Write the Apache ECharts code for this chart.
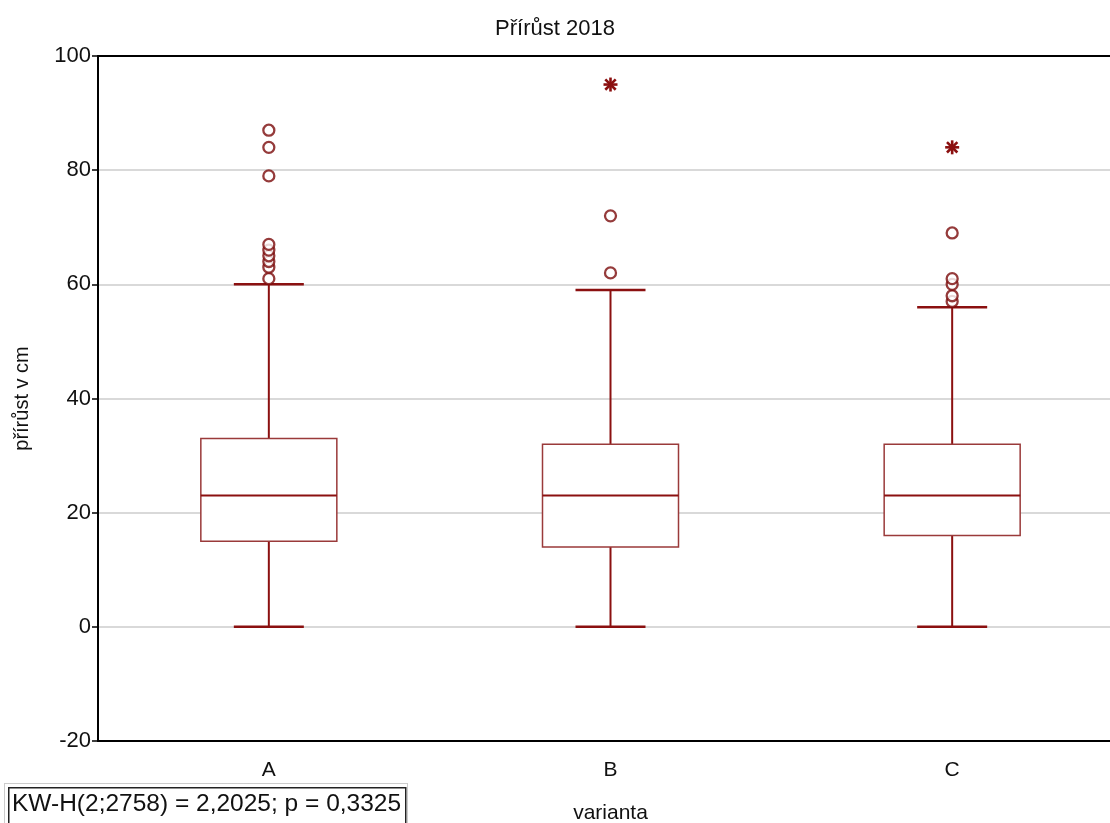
<!DOCTYPE html>
<html>
<head>
<meta charset="utf-8">
<script src="https://cdn.jsdelivr.net/npm/echarts@6/dist/echarts.min.js"></script>
<style>
  html, body { margin: 0; padding: 0; background: #fff; }
  #chart { width: 1110px; height: 823px; }
</style>
</head>
<body>
<div id="chart"></div>
<script>
// values
var categories = ['A', 'B', 'C'];
var whiskerLow = [0, 0, 0];
var q1 = [15, 14, 16];
var median = [23, 23, 23];
var q3 = [33, 32, 32];
var whiskerHigh = [60, 59, 56];
var outliersA = [61, 63, 64, 65, 66, 67, 79, 84, 87];
var outliersB = [62, 72];
var outliersC = [57, 58, 60, 61, 69];
var extremesB = [95];
var extremesC = [84];
var yTicks = [-20, 0, 20, 40, 60, 80, 100];

var red = '#8b1010';

var boxData = categories.map(function (c, i) {
  return [i, whiskerLow[i], q1[i], median[i], q3[i], whiskerHigh[i]];
});

var outlierData = [];
[outliersA, outliersB, outliersC].forEach(function (arr, i) {
  arr.forEach(function (v) { outlierData.push([i, v]); });
});
var extremeData = [];
extremesB.forEach(function (v) { extremeData.push([1, v]); });
extremesC.forEach(function (v) { extremeData.push([2, v]); });

function renderBox(params, api) {
  var idx = api.value(0);
  var lo = api.coord([idx, api.value(1)]);
  var b1 = api.coord([idx, api.value(2)]);
  var md = api.coord([idx, api.value(3)]);
  var b3 = api.coord([idx, api.value(4)]);
  var hi = api.coord([idx, api.value(5)]);
  var x = lo[0], hw = 68, cw = 35;
  var st = { stroke: red, lineWidth: 2, fill: null };
  return {
    type: 'group',
    children: [
      { type: 'line', shape: { x1: x, y1: lo[1], x2: x, y2: b1[1] }, style: st },
      { type: 'line', shape: { x1: x, y1: b3[1], x2: x, y2: hi[1] }, style: st },
      { type: 'line', shape: { x1: x - cw, y1: lo[1], x2: x + cw, y2: lo[1] }, style: { stroke: red, lineWidth: 2.5 } },
      { type: 'line', shape: { x1: x - cw, y1: hi[1], x2: x + cw, y2: hi[1] }, style: { stroke: red, lineWidth: 2.5 } },
      { type: 'rect', shape: { x: x - hw, y: b3[1], width: hw * 2, height: b1[1] - b3[1] },
        style: { stroke: '#9a3a3a', lineWidth: 1.5, fill: '#fff' } },
      { type: 'line', shape: { x1: x - hw, y1: md[1], x2: x + hw, y2: md[1] }, style: st }
    ]
  };
}

function renderStar(params, api) {
  var p = api.coord([api.value(0), api.value(1)]);
  var r = 7, d = 5.2;
  var st = { stroke: red, lineWidth: 2.6 };
  return {
    type: 'group',
    children: [
      { type: 'line', shape: { x1: p[0], y1: p[1] - r, x2: p[0], y2: p[1] + r }, style: st },
      { type: 'line', shape: { x1: p[0] - r, y1: p[1], x2: p[0] + r, y2: p[1] }, style: st },
      { type: 'line', shape: { x1: p[0] - d, y1: p[1] - d, x2: p[0] + d, y2: p[1] + d }, style: st },
      { type: 'line', shape: { x1: p[0] - d, y1: p[1] + d, x2: p[0] + d, y2: p[1] - d }, style: st }
    ]
  };
}

var chart = echarts.init(document.getElementById('chart'));
chart.setOption({
  animation: false,
  textStyle: { fontFamily: 'Liberation Sans, Arial, sans-serif' },
  title: {
    text: 'Přírůst 2018',
    left: 'center',
    top: 13,
    textStyle: { fontSize: 22, fontWeight: 'normal', color: '#111' }
  },
  grid: { left: 98, width: 1025, top: 56, bottom: 82, outerBoundsMode: 'none', containLabel: false },
  xAxis: [{
    type: 'category',
    data: categories,
    boundaryGap: true,
    name: 'varianta',
    nameLocation: 'middle',
    nameGap: 62,
    nameTextStyle: { fontSize: 21, color: '#111' },
    axisLine: { onZero: false, lineStyle: { color: '#000', width: 2 } },
    axisTick: { alignWithLabel: true, length: 6, lineStyle: { color: '#000', width: 1.5 } },
    axisLabel: { fontSize: 21, color: '#111', margin: 19 },
    splitLine: { show: false }
  }, {
    type: 'category',
    data: categories,
    position: 'top',
    axisLine: { onZero: false, lineStyle: { color: '#000', width: 2 } },
    axisTick: { alignWithLabel: true, length: 5, lineStyle: { color: '#000', width: 1.5 } },
    axisLabel: { show: false }
  }],
  yAxis: {
    type: 'value',
    min: -20,
    max: 100,
    interval: 20,
    name: 'přírůst v cm',
    nameLocation: 'middle',
    nameGap: 66,
    nameTextStyle: { fontSize: 20, color: '#111' },
    axisLine: { show: true, onZero: false, lineStyle: { color: '#000', width: 2 } },
    axisTick: { show: true, length: 6, lineStyle: { color: '#000', width: 1.5 } },
    axisLabel: {
      fontSize: 22, color: '#111', margin: 7,
      formatter: function (v) { return yTicks.indexOf(v) >= 0 ? String(v) : ''; }
    },
    splitLine: { show: true, lineStyle: { color: '#d9d9d9', width: 2 } }
  },
  series: [{
    type: 'custom',
    renderItem: renderBox,
    data: boxData,
    encode: { x: 0, y: [1, 2, 3, 4, 5] },
    z: 3
  }, {
    type: 'scatter',
    data: outlierData,
    symbol: 'circle',
    symbolSize: 11,
    itemStyle: { color: '#fff', borderColor: '#7a0a0a', borderWidth: 2.3 },
    z: 4
  }, {
    type: 'custom',
    renderItem: renderStar,
    data: extremeData,
    encode: { x: 0, y: 1 },
    z: 4
  }],
  graphic: [{
    type: 'rect',
    left: 4, top: 783,
    shape: { width: 403, height: 44 },
    style: { fill: '#fff', stroke: '#999', lineWidth: 1, lineDash: [1, 1] }
  }, {
    type: 'rect',
    left: 8, top: 787,
    shape: { width: 397, height: 40 },
    style: { fill: '#fff', stroke: '#222', lineWidth: 1.5 }
  }, {
    type: 'text',
    left: 12, top: 792,
    style: { text: 'KW-H(2;2758) = 2,2025; p = 0,3325', fontSize: 24.5, fill: '#111',
      fontFamily: 'Liberation Sans, Arial, sans-serif' }
  }]
});
</script>
</body>
</html>
